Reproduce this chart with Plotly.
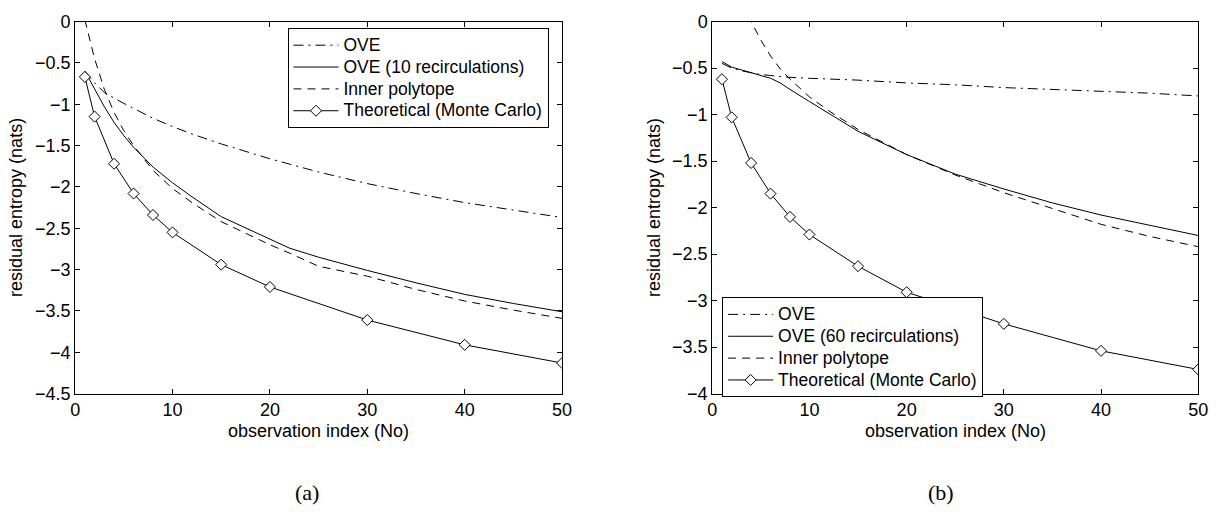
import plotly.graph_objects as go

# ---------------- data (a) ----------------
x_ove_a = [1, 2, 3, 4, 5, 6, 8, 10, 12, 15, 20, 25, 30, 35, 40, 45, 50]
ove_a = [-0.6, -0.74, -0.86, -0.93, -0.99, -1.05, -1.17, -1.27, -1.36, -1.48, -1.66, -1.82, -1.96, -2.08, -2.19, -2.28, -2.37]

x_rec_a = [1, 2, 3, 4, 5, 6, 8, 10, 12, 15, 20, 22, 25, 30, 35, 40, 45, 50]
rec_a = [-0.6, -0.82, -1.03, -1.22, -1.38, -1.52, -1.76, -1.95, -2.12, -2.36, -2.63, -2.74, -2.85, -3.01, -3.16, -3.3, -3.41, -3.51]

x_inner_a = [1, 2, 3, 4, 5, 6, 8, 10, 12, 15, 20, 22, 25, 30, 35, 40, 45, 50]
inner_a = [0.02, -0.45, -0.82, -1.1, -1.32, -1.5, -1.8, -2.02, -2.19, -2.42, -2.7, -2.8, -2.96, -3.08, -3.24, -3.38, -3.49, -3.59]

x_theo_a = [1, 2, 4, 6, 8, 10, 15, 20, 30, 40, 50]
theo_a = [-0.67, -1.15, -1.72, -2.08, -2.34, -2.55, -2.94, -3.21, -3.61, -3.91, -4.13]

# ---------------- data (b) ----------------
x_ove_b = [1, 2, 3, 4, 5, 6, 8, 10, 15, 20, 25, 30, 35, 40, 45, 50]
ove_b = [-0.45, -0.5, -0.53, -0.55, -0.57, -0.58, -0.6, -0.61, -0.63, -0.66, -0.68, -0.71, -0.73, -0.75, -0.77, -0.8]

x_rec_b = [1, 2, 3, 4, 5, 6, 7, 8, 10, 12, 15, 20, 25, 30, 35, 40, 45, 50]
rec_b = [-0.43, -0.49, -0.52, -0.55, -0.58, -0.61, -0.66, -0.73, -0.86, -0.99, -1.18, -1.43, -1.64, -1.8, -1.95, -2.08, -2.19, -2.3]

x_inner_b = [3, 4, 5, 6, 7, 8, 10, 12, 15, 20, 25, 30, 35, 40, 45, 50]
inner_b = [0.2, 0.0, -0.2, -0.37, -0.51, -0.62, -0.81, -0.96, -1.16, -1.43, -1.65, -1.84, -2.01, -2.18, -2.31, -2.42]

x_theo_b = [1, 2, 4, 6, 8, 10, 15, 20, 30, 40, 50]
theo_b = [-0.62, -1.03, -1.52, -1.85, -2.1, -2.29, -2.63, -2.91, -3.25, -3.54, -3.74]

names_a = ["OVE", "OVE (10 recirculations)", "Inner polytope", "Theoretical (Monte Carlo)"]
names_b = ["OVE", "OVE (60 recirculations)", "Inner polytope", "Theoretical (Monte Carlo)"]

x_ticks = [0, 10, 20, 30, 40, 50]
y_ticks_a = [0, -0.5, -1, -1.5, -2, -2.5, -3, -3.5, -4, -4.5]
y_ticks_b = [0, -0.5, -1, -1.5, -2, -2.5, -3, -3.5, -4]
x_title = "observation index (No)"
y_title = "residual entropy (nats)"
panel_labels = ["(a)", "(b)"]

FONT = "Liberation Sans, Arial, Helvetica, sans-serif"
W, H = 1227, 519

dashdot = "10px,5px,2px,5px"
dashed = "8px,6px"

def big(s):
    # legend text drawn larger than the legend's nominal font (keeps rows compact)
    return '<span style="font-size:17.5px">' + s + '</span>'

fig = go.Figure()

def add_panel(xa, ya, legend, names, xo, yo, xr, yr, xi, yi, xt, yt):
    fig.add_trace(go.Scatter(x=xo, y=yo, mode="lines", name=big(names[0]), xaxis=xa, yaxis=ya,
                             legend=legend, line=dict(color="black", width=1, dash=dashdot)))
    fig.add_trace(go.Scatter(x=xr, y=yr, mode="lines", name=big(names[1]), xaxis=xa, yaxis=ya,
                             legend=legend, line=dict(color="black", width=1)))
    fig.add_trace(go.Scatter(x=xi, y=yi, mode="lines", name=big(names[2]), xaxis=xa, yaxis=ya,
                             legend=legend, line=dict(color="black", width=1, dash=dashed)))
    fig.add_trace(go.Scatter(x=xt, y=yt, mode="lines+markers", name=big(names[3]), xaxis=xa, yaxis=ya,
                             legend=legend, line=dict(color="black", width=1),
                             marker=dict(symbol="diamond", size=8.5, color="white",
                                         line=dict(color="black", width=1))))

add_panel("x", "y", "legend", names_a, x_ove_a, ove_a, x_rec_a, rec_a, x_inner_a, inner_a, x_theo_a, theo_a)
add_panel("x2", "y2", "legend2", names_b, x_ove_b, ove_b, x_rec_b, rec_b, x_inner_b, inner_b, x_theo_b, theo_b)

def px_x(p):
    return p / W

def px_y(p):
    return 1 - p / H

axis_common = dict(showgrid=False, zeroline=False, showline=True, linecolor="black", linewidth=1,
                   mirror="allticks", ticks="inside", ticklen=5, tickcolor="black", tickwidth=1,
                   tickfont=dict(family=FONT, size=18, color="black"))

legend_font = dict(family=FONT, size=14.5, color="black")

fig.update_layout(
    width=W, height=H,
    margin=dict(l=0, r=0, t=0, b=0),
    paper_bgcolor="white", plot_bgcolor="white",
    font=dict(family=FONT, color="black"),
    xaxis=dict(domain=[px_x(71), px_x(564)], range=[0, 50], tickvals=x_ticks, anchor="y", **axis_common),
    yaxis=dict(domain=[px_y(399), px_y(12)], range=[-4.5, 0], tickvals=y_ticks_a, anchor="x", **axis_common),
    xaxis2=dict(domain=[px_x(716), px_x(1208)], range=[0, 50], tickvals=x_ticks, anchor="y2", **axis_common),
    yaxis2=dict(domain=[px_y(399), px_y(12)], range=[-4, 0], tickvals=y_ticks_b, anchor="x2", **axis_common),
    legend=dict(x=px_x(286), y=px_y(19), xanchor="left", yanchor="top", bgcolor="white",
                bordercolor="black", borderwidth=1, itemwidth=45, tracegroupgap=0,
                font=legend_font),
    legend2=dict(x=px_x(726), y=px_y(299), xanchor="left", yanchor="top", bgcolor="white",
                 bordercolor="black", borderwidth=1, itemwidth=45, tracegroupgap=0,
                 font=legend_font),
    showlegend=True,
)

annotations = []
for cx in [(71 + 564) / 2, (716 + 1208) / 2]:
    annotations.append(dict(text=x_title, x=px_x(cx), y=px_y(438), xref="paper", yref="paper",
                            showarrow=False, xanchor="center", yanchor="middle",
                            font=dict(family=FONT, size=18, color="black")))
for xpos in [11, 657]:
    annotations.append(dict(text=y_title, x=px_x(xpos), y=px_y(205), xref="paper", yref="paper",
                            showarrow=False, textangle=-90, xanchor="center", yanchor="middle",
                            font=dict(family=FONT, size=18, color="black")))
for lab, cx in zip(panel_labels, [306, 948]):
    annotations.append(dict(text=lab, x=px_x(cx), y=px_y(502), xref="paper", yref="paper",
                            showarrow=False, xanchor="center", yanchor="middle",
                            font=dict(family="Liberation Serif, DejaVu Serif, serif", size=22, color="black")))
fig.update_layout(annotations=annotations)

fig.write_html("out.html", config={"displayModeBar": False},
               post_script="document.body.style.margin='0';document.body.style.padding='0';")
